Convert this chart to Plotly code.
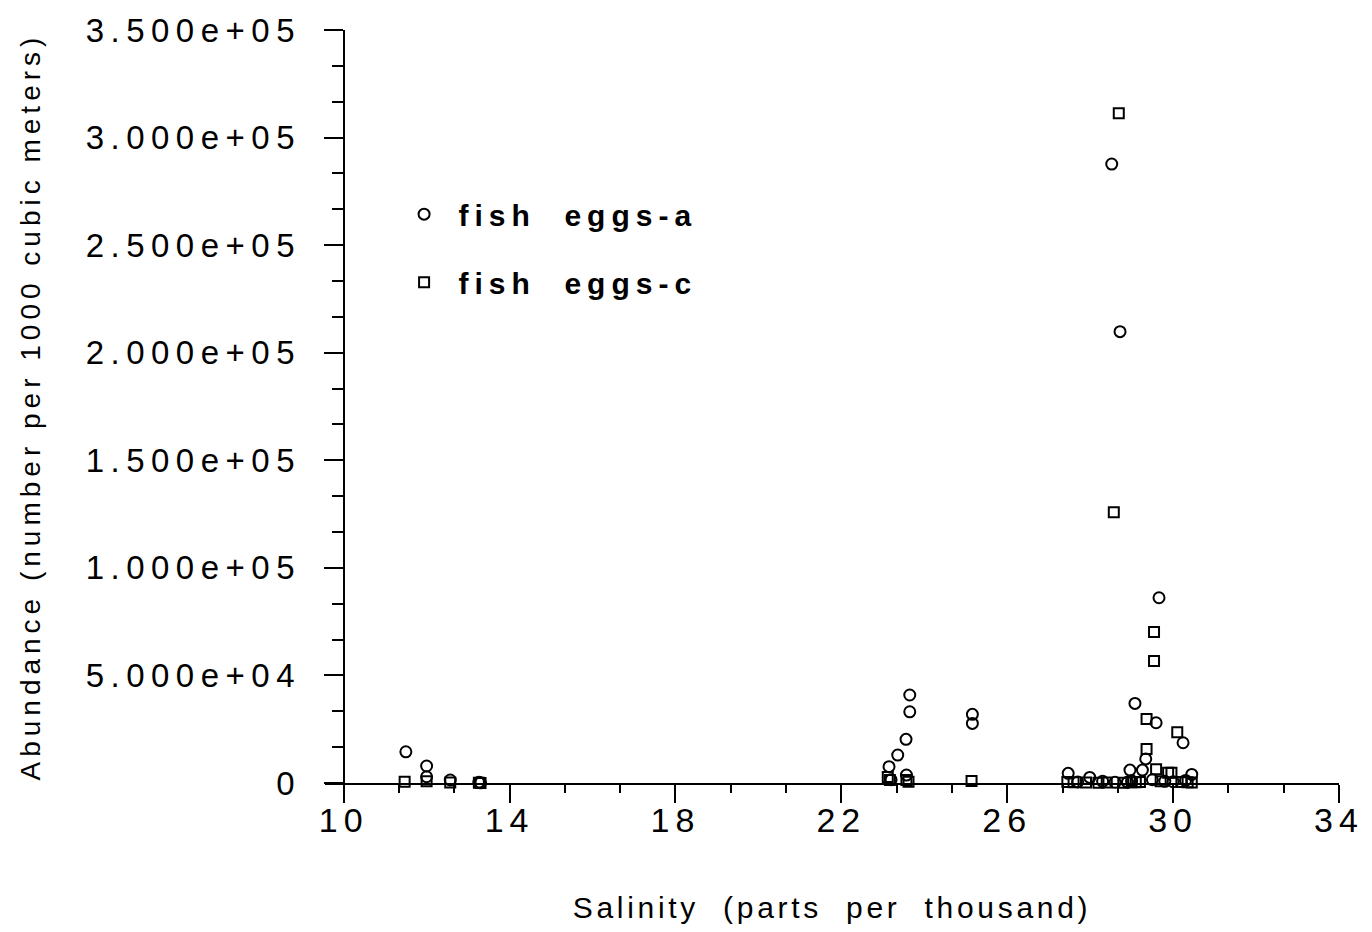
import plotly.graph_objects as go

# ---- data ----
eggs_a_salinity = [11.5, 12.0, 12.0, 12.57, 13.26, 13.3, 23.15, 23.36, 23.56, 23.65, 23.65, 23.57, 23.2,
                   25.16, 25.16, 27.47, 27.99, 27.7, 28.3, 28.52, 28.72, 28.6, 28.96, 29.08, 29.26, 29.34,
                   29.59, 29.66, 30.24, 30.45, 29.0, 29.5, 29.8, 30.0, 30.3, 28.9]
eggs_a_abundance = [14500, 7900, 2900, 1400, 300, 100, 7600, 13000, 20300, 40900, 33100, 3700, 1500,
                    31900, 27700, 4500, 2600, 500, 800, 287700, 209800, 300, 6000, 37000, 6000, 11200,
                    28000, 86100, 18700, 4000, 1000, 1500, 800, 600, 1200, 400]

eggs_c_salinity = [11.47, 12.0, 12.57, 13.26, 13.3, 23.12, 23.17, 23.57, 23.62, 25.14, 27.45, 27.6, 27.9,
                   28.2, 28.4, 28.57, 28.69, 28.8, 29.0, 29.2, 29.36, 29.36, 29.54, 29.54, 29.59, 29.88,
                   29.96, 30.1, 30.2, 30.35, 30.45, 29.7, 29.1]
eggs_c_abundance = [600, 800, 200, 100, 50, 2800, 1400, 1400, 600, 900, 500, 300, 200,
                    100, 200, 125800, 311300, 150, 300, 500, 29700, 15800, 70200, 56700, 6400, 4800,
                    4800, 23600, 500, 300, 200, 800, 400]

series_names = ["\u00a0fish\u00a0\u00a0eggs-a", "\u00a0fish\u00a0\u00a0eggs-c"]

x_tickvals = [10, 14, 18, 22, 26, 30, 34]
x_ticktext = ["10", "14", "18", "22", "26", "30", "34"]
y_tickvals = [0, 50000, 100000, 150000, 200000, 250000, 300000, 350000]
y_ticktext = ["0", "5.000e+04", "1.000e+05", "1.500e+05", "2.000e+05",
              "2.500e+05", "3.000e+05", "3.500e+05"]

x_title = "Salinity  (parts  per  thousand)"
y_title = "Abundance (number per 1000 cubic meters)"

FONT = "Liberation Sans, Arial, sans-serif"

fig = go.Figure()
fig.add_trace(go.Scatter(
    x=eggs_a_salinity, y=eggs_a_abundance, mode="markers", name=series_names[0],
    legendgroup="a", cliponaxis=False,
    marker=dict(symbol="circle-open", size=11, color="black", line=dict(width=2, color="black")),
))
fig.add_trace(go.Scatter(
    x=eggs_c_salinity, y=eggs_c_abundance, mode="markers", name=series_names[1],
    legendgroup="c", cliponaxis=False,
    marker=dict(symbol="square-open", size=10, color="black", line=dict(width=2, color="black")),
))

x0 = 9.55
x1 = 34.0
# page body has an 8px margin, so the paper starts at (8, 8)
ML, MR, MT, MB = 317, 41, 22, 157
plot_w = 1372 - ML - MR

fig.update_layout(
    width=1372, height=932,
    margin=dict(l=ML, r=MR, t=MT, b=MB, autoexpand=False),
    paper_bgcolor="white", plot_bgcolor="white",
    font=dict(family=FONT, color="black"),
    showlegend=True,
    legend=dict(
        x=0.078, y=0.79, xanchor="left", yanchor="top",
        bgcolor="rgba(0,0,0,0)", borderwidth=0,
        font=dict(family=FONT, size=30, color="black", weight="bold"),
        tracegroupgap=26,
    ),
    xaxis=dict(
        range=[x0, x1], showgrid=False, zeroline=False,
        showline=True, linecolor="black", linewidth=2,
        tickmode="array", tickvals=x_tickvals, ticktext=x_ticktext,
        ticks="outside", ticklen=18, tickwidth=2, tickcolor="black",
        tickfont=dict(family=FONT, size=34, color="black"),
        ticklabelstandoff=-12,
        minor=dict(dtick=4/3, tick0=10, ticks="outside", ticklen=8, tickwidth=2, tickcolor="black",
                   showgrid=False),
        title=dict(text=x_title, font=dict(family=FONT, size=30, color="black"), standoff=59),
    ),
    yaxis=dict(
        range=[0, 350000], showgrid=False, zeroline=False,
        anchor="free", position=(10 - x0) / (x1 - x0),
        showline=True, linecolor="black", linewidth=2,
        tickmode="array", tickvals=y_tickvals, ticktext=y_ticktext,
        ticks="outside", ticklen=19, tickwidth=2, tickcolor="black",
        tickfont=dict(family=FONT, size=33, color="black"),
        ticklabelstandoff=16,
        minor=dict(dtick=50000/3, tick0=0, ticks="outside", ticklen=11, tickwidth=2, tickcolor="black",
                   showgrid=False),
    ),
    annotations=[dict(
        text=y_title, textangle=-90, showarrow=False,
        xref="paper", yref="paper",
        x=(30 - (ML + 8)) / plot_w, y=0.5, xanchor="center", yanchor="middle",
        font=dict(family=FONT, size=28, color="black"),
    )],
)

post = """
var gd = document.getElementById('{plot_id}');
function spacing(){
  gd.querySelectorAll('.ytick text').forEach(function(t){ t.setAttribute('letter-spacing','6.5px'); });
  gd.querySelectorAll('.xtick text').forEach(function(t){ t.setAttribute('letter-spacing','6px'); });
  gd.querySelectorAll('.legendtext').forEach(function(t){ t.setAttribute('letter-spacing','6px'); });
  gd.querySelectorAll('.legend [clip-path]').forEach(function(e){ e.removeAttribute('clip-path'); });
  gd.querySelectorAll('.g-xtitle text').forEach(function(t){ t.setAttribute('letter-spacing','3.7px'); });
  gd.querySelectorAll('.annotation-text').forEach(function(t){ t.setAttribute('letter-spacing','5px'); });
}
spacing();
gd.on('plotly_afterplot', spacing);
"""

fig.write_html("out.html", post_script=post)
